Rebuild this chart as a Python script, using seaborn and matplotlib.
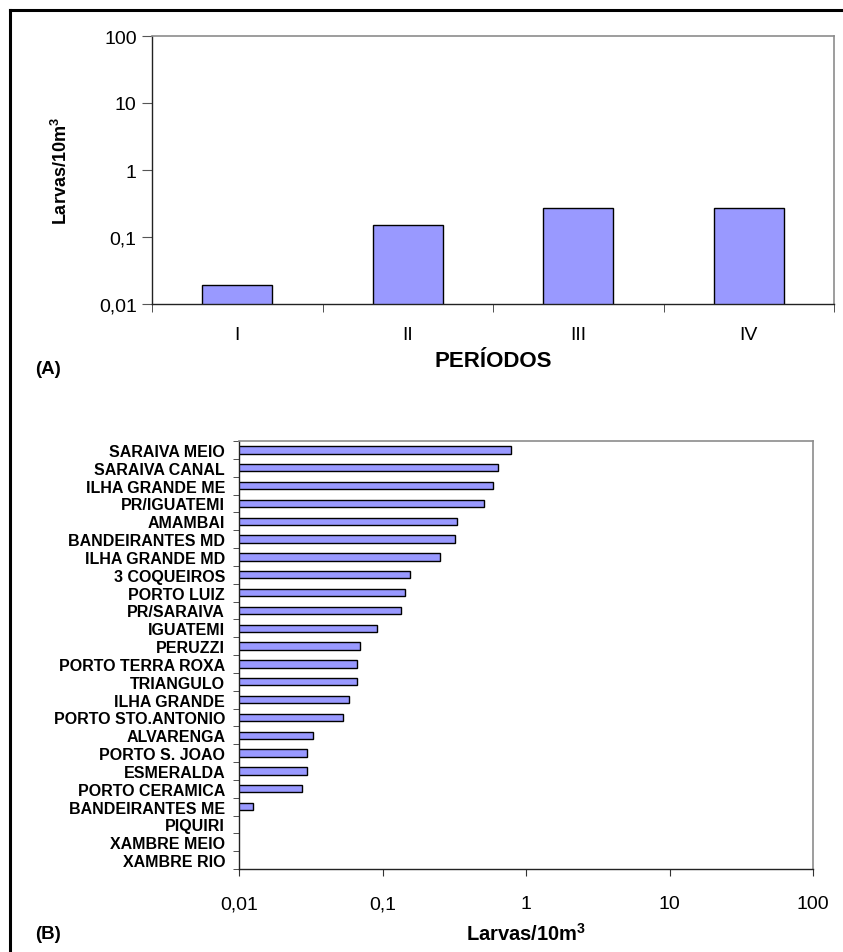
import numpy as np
import pandas as pd
import seaborn as sns
import matplotlib
matplotlib.use('Agg')
import matplotlib.pyplot as plt
from matplotlib.lines import Line2D

# data
periodos = ['I', 'II', 'III', 'IV']
larvas_periodo = [0.0195, 0.15, 0.27, 0.27]

estacoes = ['SARAIVA MEIO', 'SARAIVA CANAL', 'ILHA GRANDE ME', 'PR/IGUATEMI',
            'AMAMBAI', 'BANDEIRANTES MD', 'ILHA GRANDE MD', '3 COQUEIROS',
            'PORTO LUIZ', 'PR/SARAIVA', 'IGUATEMI', 'PERUZZI',
            'PORTO TERRA ROXA', 'TRIANGULO', 'ILHA GRANDE', 'PORTO STO.ANTONIO',
            'ALVARENGA', 'PORTO S. JOAO', 'ESMERALDA', 'PORTO CERAMICA',
            'BANDEIRANTES ME', 'PIQUIRI', 'XAMBRE MEIO', 'XAMBRE RIO']
larvas_estacao = [0.79, 0.64, 0.59, 0.51, 0.33, 0.32, 0.25, 0.155,
                  0.143, 0.134, 0.091, 0.07, 0.066, 0.066, 0.058, 0.053,
                  0.033, 0.030, 0.030, 0.0275, 0.0125, 0.0, 0.0, 0.0]

log_ticks = [0.01, 0.1, 1, 10, 100]
log_labels = ['0,01', '0,1', '1', '10', '100']

sns.set_style('white')
plt.rcParams['font.family'] = ['Liberation Sans', 'DejaVu Sans']
plt.rcParams['text.color'] = 'black'
plt.rcParams['axes.labelcolor'] = 'black'
plt.rcParams['xtick.color'] = 'black'
plt.rcParams['ytick.color'] = 'black'
plt.rcParams['mathtext.fontset'] = 'custom'
plt.rcParams['mathtext.rm'] = 'Liberation Sans'
plt.rcParams['mathtext.bf'] = 'Liberation Sans:bold'

BAR = '#9999FF'
GRAY = '#8c8c8c'
UNIT = r'Larvas/10m$^{\mathbf{3}}$'

fig = plt.figure(figsize=(8.43, 9.53), dpi=100)

# ---- (A) ----
df_a = pd.DataFrame({'periodo': periodos, 'larvas': larvas_periodo})
ax1 = fig.add_axes([152/843, 1 - 305/953, 682/843, 268/953])
sns.barplot(data=df_a, x='periodo', y='larvas', ax=ax1, color=BAR,
            edgecolor='black', linewidth=1, width=0.41, saturation=1)
ax1.set_yscale('log')
ax1.set_ylim(0.01, 100)
ax1.set_xlim(-0.5, 3.5)
ax1.set_yticks(log_ticks)
ax1.set_yticklabels(log_labels)
ax1.yaxis.set_minor_locator(matplotlib.ticker.NullLocator())
ax1.set_xticks(np.arange(-0.5, 4, 1), minor=True)
ax1.tick_params(axis='x', which='major', length=0, pad=16, labelsize=14)
ax1.tick_params(axis='x', which='minor', length=6, color='#333333', direction='out', bottom=True)
ax1.tick_params(axis='y', which='major', length=7, color='#555555', direction='out',
                left=True, labelsize=14, pad=4)
ax1.set_xlabel('PERÍODOS', fontsize=16, fontweight='bold', labelpad=5)
ax1.set_ylabel(UNIT, fontsize=13, fontweight='bold', labelpad=20)
for s in ['left', 'bottom']:
    ax1.spines[s].set_color('#222222')
    ax1.spines[s].set_linewidth(1.0)
for s in ['top', 'right']:
    ax1.spines[s].set_color(GRAY)
    ax1.spines[s].set_linewidth(1.2)

# ---- (B) ----
df_b = pd.DataFrame({'estacao': estacoes, 'larvas': larvas_estacao})
ax2 = fig.add_axes([239/843, 1 - 870/953, 574/843, 428/953])
sns.barplot(data=df_b, y='estacao', x='larvas', ax=ax2, color=BAR, orient='h',
            edgecolor='black', linewidth=1, width=0.42, saturation=1)
ax2.set_xscale('log')
ax2.set_xlim(0.01, 100)
ax2.set_ylim(23.5, -0.5)
ax2.set_xticks(log_ticks)
ax2.set_xticklabels(log_labels)
ax2.xaxis.set_minor_locator(matplotlib.ticker.NullLocator())
ax2.set_yticks(np.arange(-0.5, 24, 1), minor=True)
ax2.tick_params(axis='y', which='major', length=0, pad=10, labelsize=11.5)
for lab in ax2.get_yticklabels():
    lab.set_fontweight('bold')
ax2.tick_params(axis='y', which='minor', length=4, color='#333333', direction='out', left=True)
ax2.tick_params(axis='x', which='major', length=5, color='#333333', direction='out',
                bottom=True, labelsize=14, pad=14)
ax2.set_ylabel('')
ax2.set_xlabel(UNIT, fontsize=14.5, fontweight='bold', labelpad=7)
for s in ['left', 'bottom']:
    ax2.spines[s].set_color('#222222')
    ax2.spines[s].set_linewidth(1.0)
for s in ['top', 'right']:
    ax2.spines[s].set_color(GRAY)
    ax2.spines[s].set_linewidth(1.2)

# panel letters
fig.text(35/843, 1 - 370/953, '(A)', fontsize=13.5, fontweight='bold', va='center', ha='left')
fig.text(35/843, 1 - 935/953, '(B)', fontsize=13.5, fontweight='bold', va='center', ha='left')

# outer frame (open on right and bottom as in the scan)
fig.add_artist(Line2D([10/843, 10/843], [1 - 11/953, 0], color='black', lw=2.2,
                      transform=fig.transFigure, solid_capstyle='projecting'))
fig.add_artist(Line2D([10/843, 1], [1 - 11/953, 1 - 11/953], color='black', lw=2.2,
                      transform=fig.transFigure, solid_capstyle='projecting'))

fig.savefig('out.png', dpi=100)
